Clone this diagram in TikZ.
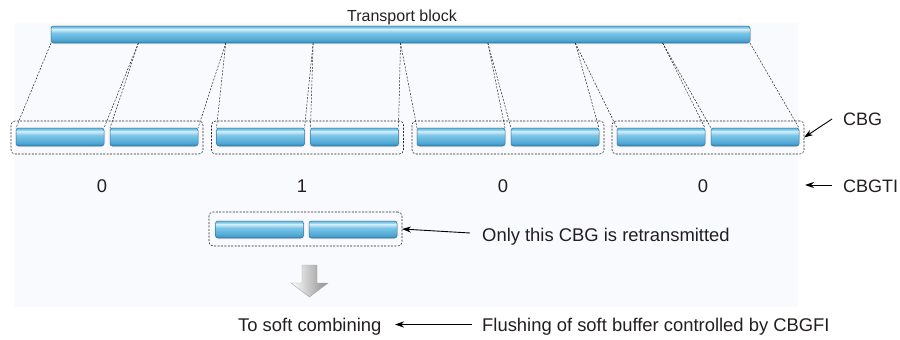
\documentclass[tikz,border=0pt]{standalone}
\usepackage{fontspec}
\setmainfont{Liberation Sans}
\usetikzlibrary{calc,arrows.meta}
\definecolor{barEdge}{HTML}{2C7AA8}
\definecolor{barBot}{HTML}{2F80B0}
\definecolor{barLow}{HTML}{4FA6D3}
\definecolor{barMid}{HTML}{7CC6E8}
\definecolor{barHi}{HTML}{D6F1FB}
\definecolor{barTopc}{HTML}{6DBBE0}
\definecolor{txt}{HTML}{231F20}
\definecolor{panel}{HTML}{F9FAFD}
\definecolor{halo}{HTML}{F8ECE8}
\pgfdeclareverticalshading{glossy}{100bp}{color(0bp)=(barBot); color(25bp)=(barBot); color(33bp)=(barLow); color(55bp)=(barMid); color(66bp)=(barHi); color(71bp)=(barMid); color(75bp)=(barTopc); color(100bp)=(barTopc)}
\begin{document}
\begin{tikzpicture}[x=1pt,y=-1pt,
  bar/.style={shade, shading=glossy, rounded corners=2.5pt, draw=barEdge, line width=0.5pt,
    preaction={draw=halo, line width=2.5pt, rounded corners=2.5pt},
    minimum height=18pt, minimum width=88pt, inner sep=0pt, outer sep=0pt},
  grp/.style={draw=black!85, dash pattern=on 2pt off 1.4pt, line width=0.55pt,
    rounded corners=4pt, minimum width=192pt, minimum height=33pt, inner sep=0pt, outer sep=0pt},
  dl/.style={draw=black!85, dash pattern=on 2pt off 1.4pt, line width=0.5pt},
  arr/.style={draw=black, line width=0.9pt, -{Stealth[length=9pt,width=6pt]}},
  lbl/.style={text=txt, inner sep=0pt, font=\fontsize{18.4}{20}\selectfont}
]
\useasboundingbox (0,0) rectangle (900,340);
\fill[panel] (15,23) rectangle (798,307);

% transport block
\node[bar, minimum width=699pt, minimum height=17pt] (tb) at (400.5,34.5) {};
\node[lbl, anchor=base, font=\fontsize{16}{18}\selectfont] (tbl) at (402,21.7) {Transport block};

% code block groups
\foreach \k/\s in {1/16,2/216.5,3/417,4/617}{
  \pgfmathtruncatemacro{\na}{2*\k-1}
  \pgfmathtruncatemacro{\nb}{2*\k}
  \node[grp] (g\k) at (\s+91,137.5) {};
  \node[bar] (bar\na) at (\s+44,137) {};
  \node[bar] (bar\nb) at (\s+138,137) {};
}

% boundaries on the transport block
\foreach \i in {0,...,8}{
  \coordinate (tb\i) at ($(tb.south west)!\i/8!(tb.south east)$);
}
\foreach \i in {1,...,8}{
  \pgfmathtruncatemacro{\j}{\i-1}
  \draw[dl] (tb\j) -- (bar\i.north west);
  \draw[dl] (tb\i) -- (bar\i.north east);
}

% CBGTI values
\node[lbl, anchor=base] (v1) at (102,192) {0};
\node[lbl, anchor=base] (v2) at (302,192) {1};
\node[lbl, anchor=base] (v3) at (503,192) {0};
\node[lbl, anchor=base] (v4) at (703,192) {0};

% right labels
\node[lbl, anchor=base west, font=\fontsize{18}{20}\selectfont] (cbg) at (843,125) {CBG};
\node[lbl, anchor=base west, font=\fontsize{18}{20}\selectfont] (cbgti) at (843,192) {CBGTI};
\coordinate (cbgtail) at (832,119);
\draw[arr] (cbgtail) -- (g4.east);
\coordinate (tiTail) at (832,185);
\coordinate (tiTip) at (805,185);
\draw[arr] (tiTail) -- (tiTip);

% retransmitted CBG
\node[grp, minimum width=193pt, minimum height=34pt] (g5) at (305.5,229) {};
\node[bar, minimum height=17pt] (rb1) at (259.5,229.5) {};
\node[bar, minimum height=17pt] (rb2) at (353,229.5) {};
\node[lbl, anchor=base west] (only) at (482,241.5) {Only this CBG is retransmitted};
\coordinate (onlytail) at (470,233);
\draw[arr] (onlytail) -- (g5.east);

% down block arrow
\shade[left color=white, right color=black!45, draw=black!35, line width=0.4pt]
  (302,265) -- (317,265) -- (317,283) -- (328,283) -- (309.5,297) -- (291,283) -- (302,283) -- cycle;

% bottom row
\node[lbl, anchor=base west] (soft) at (238,331) {To soft combining};
\node[lbl, anchor=base west] (flush) at (482,331) {Flushing of soft buffer controlled by CBGFI};
\coordinate (fltail) at (472,324.5);
\coordinate (fltip) at (395,324.5);
\draw[arr] (fltail) -- (fltip);
\end{tikzpicture}
\end{document}
